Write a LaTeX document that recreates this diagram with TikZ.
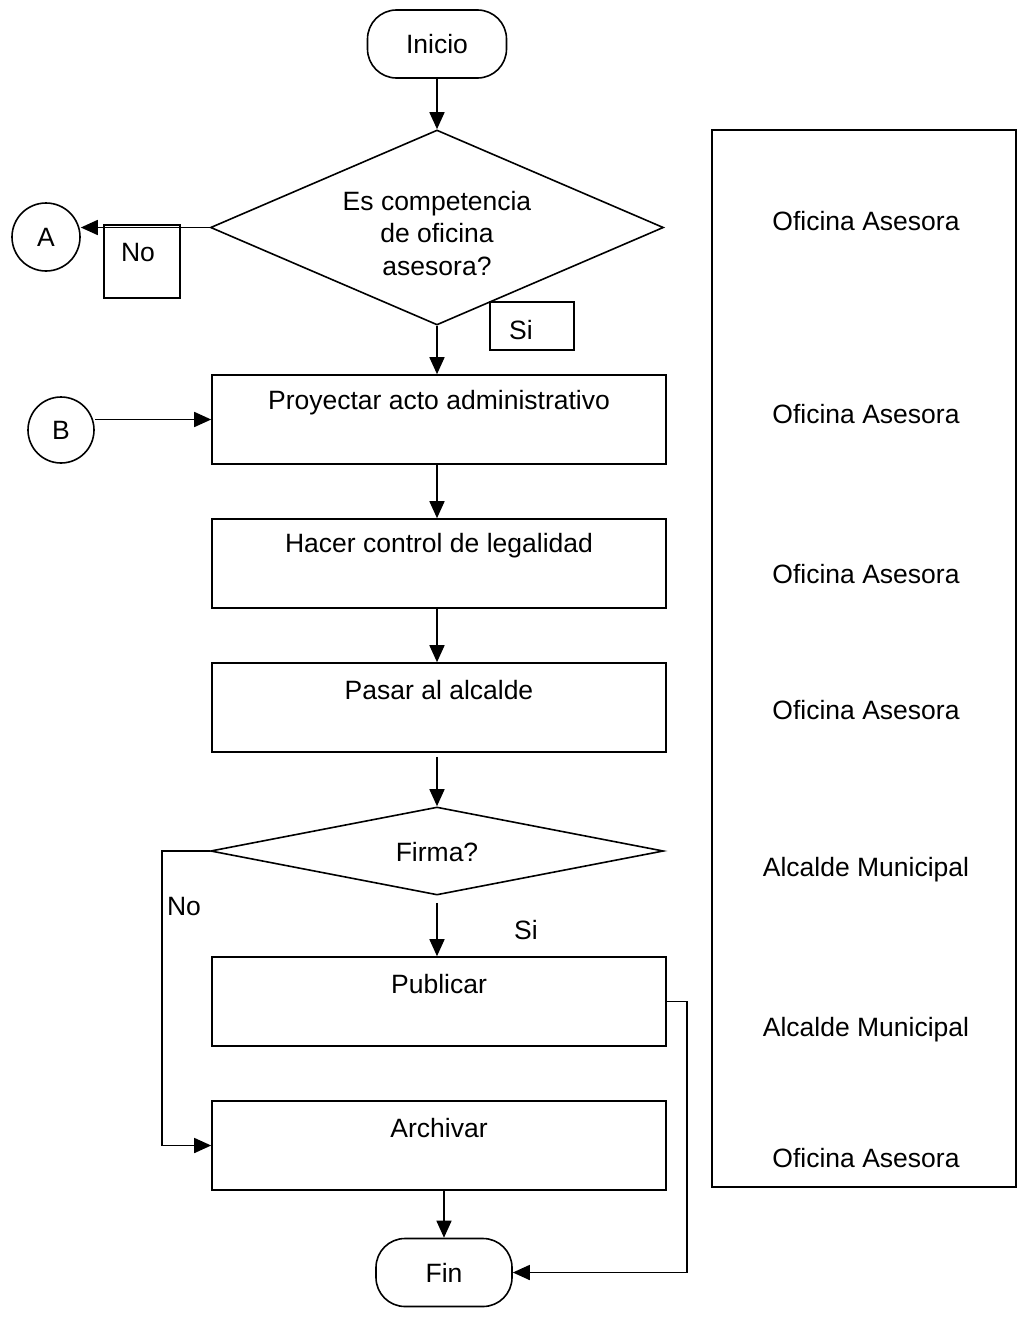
\documentclass[tikz,border=0pt]{standalone}
\usepackage{fontspec}
\setmainfont{Liberation Sans}
\usetikzlibrary{arrows.meta,shapes.geometric,shapes.misc}
\begin{document}
\begin{tikzpicture}[x=1pt,y=-1pt,
  every node/.style={font=\fontsize{26.5}{32.5}\selectfont},
  ln/.style={line width=1.6pt},
  arr/.style={ln,-{Triangle[length=17pt,width=15pt]}},
  term/.style={draw,ln,rectangle,rounded corners=29pt,minimum width=#1,minimum height=68pt,inner sep=0pt},
  stepbox/.style={draw,ln,rectangle,minimum width=454pt,minimum height=89pt,inner sep=0pt},
  decision/.style={draw,ln,diamond,minimum width=453pt,minimum height=#1,inner sep=0pt},
  conn/.style={draw,ln,circle,minimum size=#1,inner sep=0pt},
  txt/.style={inner sep=0pt,align=center}
]
\useasboundingbox (0,0) rectangle (1019,1317);
% start
\node[term=139pt] (ini) at (437,44) {Inicio};
% decision 1
\node[decision=195pt] (d1) at (437,227.5) {};
\node[txt] (d1t) at (437,233.5) {Es competencia\\de oficina\\asesora?};
% connectors
\node[conn=68pt] (A) at (46,237) {A};
\node[conn=66pt] (B) at (61,430) {B};
% No / Si boxes
\node[draw,ln,minimum width=76pt,minimum height=73pt,inner sep=0pt] (nobox) at (142,261.5) {};
\node[txt] (not) at (138,253) {No};
\node[draw,ln,minimum width=84pt,minimum height=48pt,inner sep=0pt] (sibox) at (532,326) {};
\node[txt] (sit) at (521,330) {Si};
% process boxes
\node[stepbox] (b1) at (439,419.5) {};
\node[txt] (b1t) at (439,403) {Proyectar acto administrativo};
\node[stepbox] (b2) at (439,563.5) {};
\node[txt] (b2t) at (439,546) {Hacer control de legalidad};
\node[stepbox] (b3) at (439,707.5) {};
\node[txt] (b3t) at (439,690) {Pasar al alcalde};
% decision 2
\node[decision=88pt] (d2) at (437,851) {};
\node[txt] (d2t) at (437,852) {Firma?};
\node[txt] (d2no) at (184,907) {No};
\node[txt] (d2si) at (526,930) {Si};
\node[stepbox] (b4) at (439,1001.5) {};
\node[txt] (b4t) at (439,984) {Publicar};
\node[stepbox] (b5) at (439,1145.5) {};
\node[txt] (b5t) at (439,1128) {Archivar};
% end
\node[term=136pt] (fin) at (444,1272.5) {Fin};
% lane box
\node[draw,ln,minimum width=304pt,minimum height=1057pt,inner sep=0pt] (lane) at (864,658.5) {};
\node[txt] (l1) at (866,221) {Oficina Asesora};
\node[txt] (l2) at (866,414) {Oficina Asesora};
\node[txt] (l3) at (866,574) {Oficina Asesora};
\node[txt] (l4) at (866,710) {Oficina Asesora};
\node[txt] (l5) at (866,870) {Alcalde Municipal};
\node[txt] (l6) at (866,1030) {Alcalde Municipal};
\node[txt] (l7) at (866,1158) {Oficina Asesora};
% connectors
\draw[arr] (ini.south) -- (d1.north);
\draw[arr] (d1.west) -- (d1.west -| A.east);
\draw[arr] (d1.south) -- (d1.south |- b1.north);
\draw[arr] (B.east |- b1.west) -- (b1.west);
\draw[arr] (b1.south -| d1.south) -- (b2.north -| d1.south);
\draw[arr] (b2.south -| d1.south) -- (b3.north -| d1.south);
\draw[arr] ([yshift=-4pt]b3.south -| d1.south) -- (d2.north);
\draw[arr] ([yshift=-7pt]d2.south) -- (b4.north -| d2.south);
\draw[arr] (d2.west) -- ++(-48,0) |- (b5.west);
\draw[arr] (b4.east) -- ++(20,0) |- (fin.east);
\draw[arr] (b5.south -| fin.north) -- (fin.north);
\end{tikzpicture}
\end{document}
